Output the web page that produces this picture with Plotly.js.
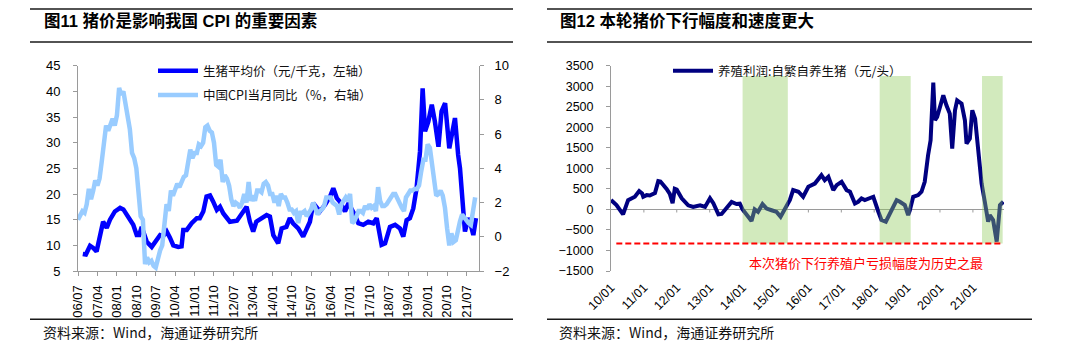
<!DOCTYPE html>
<html>
<head>
<meta charset="utf-8">
<script src="https://cdn.plot.ly/plotly-3.0.1.min.js"></script>
<style>html,body{margin:0;padding:0;background:#fff;}#chart{width:1080px;height:346px;}</style>
</head>
<body>
<div id="chart"></div>
<script>
// ---------------- DATA ----------------
// Left panel: pig price (元/千克, left axis)
const porkDates = ['2006-09-07','2006-10-20','2006-12-18','2007-02-01','2007-03-20','2007-05-07','2007-06-20','2007-08-10','2007-09-25','2007-12-03',
 '2008-02-15','2008-04-01','2008-06-10','2008-08-18','2008-10-06','2008-11-10','2008-12-15','2009-02-25','2009-05-06','2009-07-15',
 '2009-09-01','2009-10-15','2009-12-03','2010-01-18','2010-03-06','2010-05-15','2010-07-01','2010-07-25','2010-09-12','2010-11-20',
 '2011-02-01','2011-03-15','2011-05-03','2011-06-18','2011-08-06','2011-09-20','2011-11-10','2011-12-25','2012-02-10','2012-05-12',
 '2012-08-20','2012-11-18','2013-01-03','2013-02-18','2013-04-06','2013-05-20','2013-08-28','2013-10-12','2013-11-28','2014-01-15',
 '2014-03-25','2014-05-12','2014-07-18','2014-09-05','2014-10-20','2015-01-01','2015-03-12','2015-05-01','2015-06-15','2015-08-01',
 '2015-09-18','2015-11-03','2016-01-15','2016-03-25','2016-05-10','2016-06-28','2016-08-12','2016-10-22','2016-12-10','2017-01-25',
 '2017-03-10','2017-04-28','2017-07-06','2017-09-15','2017-11-25','2018-01-12','2018-03-22','2018-05-10','2018-07-18','2018-09-28',
 '2018-12-06','2019-01-22','2019-03-10','2019-04-25','2019-06-12','2019-07-28','2019-08-22','2019-09-15','2019-10-22','2019-11-25',
 '2020-01-10','2020-02-28','2020-04-12','2020-06-01','2020-07-15','2020-09-03','2020-11-01','2020-12-01','2021-01-20','2021-03-06',
 '2021-04-01','2021-05-15','2021-06-10','2021-07-28','2021-08-25','2021-10-06','2021-11-12'];
const porkPrice = [8.3,8.2,9.9,9.5,8.8,12.0,14.6,13.4,15.0,16.6,
 17.3,17.0,15.6,14.0,12.0,12.0,13.6,10.7,9.7,11.0,
 12.0,11.8,12.7,11.5,10.0,9.7,9.8,13.0,13.0,14.3,
 15.3,15.3,16.6,19.5,19.7,18.5,16.9,17.5,16.2,14.6,
 14.8,16.6,17.5,14.6,12.7,14.6,15.6,15.9,15.6,12.0,
 10.4,13.3,13.6,15.3,14.3,13.3,11.7,13.0,14.6,18.2,
 17.5,16.6,17.9,19.5,21.1,19.2,18.5,16.6,18.2,17.2,
 15.9,14.3,14.0,14.6,14.3,15.3,10.1,10.4,13.6,14.0,
 13.3,11.7,14.9,15.3,17.2,21.1,26.3,28.3,40.6,32.2,
 34.1,37.4,34.1,29.2,36.1,37.7,28.9,30.9,34.8,27.6,
 25.0,17.2,12.7,15.3,14.3,12.0,15.3];

// Left panel: China CPI YoY (%, right axis), monthly from 2006-07
const cpiStart = '2006-07';
const cpiYoY = [1.0,1.3,1.5,1.4,1.9,2.8,
 2.2,2.7,3.3,3.0,3.4,4.4,5.6,6.5,6.2,6.5,6.9,6.5,
 7.1,8.7,8.3,8.5,7.7,7.1,6.3,4.9,4.6,4.0,2.4,1.2,
 1.0,-1.6,-1.2,-1.5,-1.4,-1.7,-1.8,-1.2,-0.8,-0.5,0.6,1.9,
 1.5,2.7,2.4,2.8,3.1,2.9,3.3,3.5,3.6,4.4,5.1,4.6,
 4.9,4.9,5.4,5.3,5.5,6.4,6.5,6.2,6.1,5.5,4.2,4.1,
 4.5,3.2,3.6,3.4,3.0,2.2,1.8,2.0,1.9,1.7,2.0,2.5,
 2.0,3.2,2.1,2.4,2.1,2.7,2.7,2.6,3.1,3.2,3.0,2.5,
 2.5,2.0,2.4,1.8,2.5,2.3,2.3,2.0,1.6,1.6,1.4,1.5,
 0.8,1.4,1.4,1.5,1.2,1.4,1.6,2.0,1.6,1.3,1.5,1.6,
 1.8,2.3,2.3,2.3,2.0,1.9,1.8,1.3,1.9,2.1,2.3,2.1,
 2.5,0.8,0.9,1.2,1.5,1.5,1.4,1.8,1.6,1.9,1.7,1.8,
 1.5,2.9,2.1,1.8,1.8,1.9,2.1,2.3,2.5,2.5,2.2,1.9,
 1.7,1.5,2.3,2.5,2.7,2.7,2.8,2.8,3.0,3.8,4.5,4.5,
 5.4,5.2,4.3,3.3,2.4,2.5,2.7,2.4,1.7,0.5,-0.5,0.2,
 -0.3,-0.2,0.4,0.9,1.3,1.1,1.0,0.8,0.7,1.5,2.3];

const leftTickLabels = ['06/07','07/04','08/01','08/10','09/07','10/04','11/01','11/10','12/07','13/04','14/01',
 '14/10','15/07','16/04','17/01','17/10','18/07','19/04','20/01','20/10','21/07'];

// Right panel: hog farming profit, self-bred (元/头)
const profitDates = ['2010-01-01','2010-03-03','2010-05-15','2010-07-10','2010-09-23','2010-11-10','2010-12-12','2010-12-25','2011-02-01','2011-03-07',
 '2011-05-04','2011-06-10','2011-07-04','2011-08-10','2011-09-10','2011-10-16','2011-11-16','2011-12-10','2012-01-01','2012-02-25',
 '2012-05-07','2012-07-01','2012-09-16','2012-11-10','2013-01-04','2013-02-10','2013-04-07','2013-05-13','2013-06-19','2013-07-25',
 '2013-09-01','2013-10-25','2013-12-01','2014-01-01','2014-02-15','2014-04-10','2014-05-15','2014-06-21','2014-08-10','2014-09-25',
 '2014-11-19','2015-01-13','2015-02-27','2015-04-16','2015-06-10','2015-07-16','2015-09-13','2015-11-04','2016-01-01','2016-03-13',
 '2016-04-19','2016-05-25','2016-07-01','2016-08-10','2016-10-04','2016-11-10','2017-01-04','2017-03-01','2017-04-07','2017-06-01',
 '2017-07-07','2017-08-13','2017-09-19','2017-11-16','2017-12-22','2018-02-16','2018-03-22','2018-05-10','2018-06-04','2018-07-10',
 '2018-09-07','2018-10-13','2018-12-07','2019-01-13','2019-02-01','2019-03-10','2019-05-04','2019-06-10','2019-07-16','2019-08-22',
 '2019-09-19','2019-10-19','2019-11-07','2019-12-01','2020-01-01','2020-02-07','2020-03-13','2020-04-19','2020-05-16','2020-06-16',
 '2020-07-10','2020-08-28','2020-10-04','2020-10-22','2020-11-28','2020-12-25','2021-01-25','2021-03-01','2021-04-07','2021-05-13',
 '2021-06-19','2021-07-07','2021-08-13','2021-09-22','2021-10-28','2021-12-04'];
const profitValues = [227,105,-121,227,308,446,390,308,348,340,
 400,689,680,600,500,380,150,500,480,270,
 100,60,100,60,270,150,-120,-110,0,80,
 180,130,140,0,-120,-280,0,-60,130,20,
 -20,-60,-180,30,230,470,430,308,551,630,
 753,834,713,794,470,591,672,470,430,146,
 186,267,227,267,308,-57,-259,-300,-178,-57,
 227,186,105,-138,-16,308,348,430,672,1320,
 1685,3086,2171,2252,2495,2778,2535,2333,1482,2414,
 2656,2576,2171,1604,1725,2414,2211,1401,632,186,
 -300,-138,-259,-786,105,186];

const rightTickLabels = ['10/01','11/01','12/01','13/01','14/01','15/01','16/01','17/01','18/01','19/01','20/01','21/01'];

// Price-decline periods (shaded) and record-loss level
const bandStarts = ['2014-01-01','2018-03-03','2021-04-12'];
const bandEnds   = ['2015-05-18','2019-02-10','2021-11-27'];
const recordLoss = -830;

// ---------------- HELPERS ----------------
const W = 1080, H = 346;
const fx = p => p / W;
const fy = p => 1 - p / H;
const labelToDate = l => '20' + l.slice(0,2) + '-' + l.slice(3,5) + '-01';
const cpiDates = cpiYoY.map((_, i) => {
  const y0 = parseInt(cpiStart.slice(0,4)), m0 = parseInt(cpiStart.slice(5,7)) - 1;
  const t = m0 + i; const y = y0 + Math.floor(t/12); const m = (t % 12) + 1;
  return y + '-' + String(m).padStart(2,'0') + '-01';
});

const latin = 'Liberation Sans, Arial, sans-serif';
const cjk = 'Noto Sans CJK SC, sans-serif';
const axisGray = '#9a9a9a';

const traces = [
  { x: porkDates, y: porkPrice, type: 'scatter', mode: 'lines', name: '生猪平均价（元/千克，左轴）',
    line: { color: '#0000FF', width: 4.5 }, xaxis: 'x', yaxis: 'y', legend: 'legend', legendgroup: 'a' },
  { x: cpiDates, y: cpiYoY, type: 'scatter', mode: 'lines', name: '中国CPI当月同比（%，右轴）',
    line: { color: '#99CCFF', width: 4.5 }, xaxis: 'x', yaxis: 'y2', legend: 'legend', legendgroup: 'b' },
  { x: profitDates, y: profitValues, type: 'scatter', mode: 'lines', name: '养殖利润:自繁自养生猪（元/头）',
    line: { color: '#000080', width: 4 }, xaxis: 'x3', yaxis: 'y3', legend: 'legend2' }
];

const yDom = [fy(271), fy(65.7)];
const tickFontL = { family: latin, size: 13, color: '#000' };
const tickFontR = { family: latin, size: 12.5, color: '#000' };

const shapes = [];
// header / footer rules
[[30,513],[547,1032]].forEach(([a,b]) => {
  [9,42,319.3].forEach(yy => shapes.push({ type:'line', xref:'paper', yref:'paper', x0:fx(a), x1:fx(b), y0:fy(yy), y1:fy(yy), line:{color:'#1a1a1a', width:1.6} }));
});
// shaded bands
bandStarts.forEach((s, i) => shapes.push({ type:'rect', xref:'x3', yref:'y3', x0:s, x1:bandEnds[i], y0:recordLoss, y1:3250,
  fillcolor:'rgb(142,203,91)', opacity:0.4, line:{width:0}, layer:'above' }));
// ticks on the zero line
rightTickLabels.slice(1).forEach(l => shapes.push({ type:'line', xref:'x3', yref:'y3', x0:labelToDate(l), x1:labelToDate(l), y0:0, y1:-75,
  line:{color:axisGray, width:1}, layer:'below' }));
// record-loss dashed line
shapes.push({ type:'line', xref:'x3', yref:'y3', x0:'2010-03-01', x1:'2021-11-20', y0:recordLoss, y1:recordLoss,
  line:{color:'#FF0000', width:2, dash:'6px,3px'} });

const annotations = [
  { text:'图11 猪价是影响我国 CPI 的重要因素', xref:'paper', yref:'paper', x:fx(42), y:fy(20.5), xanchor:'left', yanchor:'middle', showarrow:false,
    font:{ family: latin.replace(', sans-serif','') + ', ' + cjk, size:16.5, color:'#000', weight:'bold' } },
  { text:'图12 本轮猪价下行幅度和速度更大', xref:'paper', yref:'paper', x:fx(558), y:fy(20.5), xanchor:'left', yanchor:'middle', showarrow:false,
    font:{ family: latin.replace(', sans-serif','') + ', ' + cjk, size:16.5, color:'#000', weight:'bold' } },
  { text:'资料来源：Wind，海通证券研究所', xref:'paper', yref:'paper', x:fx(41), y:fy(331.5), xanchor:'left', yanchor:'middle', showarrow:false,
    font:{ family: cjk, size:14, color:'#111' } },
  { text:'资料来源：Wind，海通证券研究所', xref:'paper', yref:'paper', x:fx(557), y:fy(331.5), xanchor:'left', yanchor:'middle', showarrow:false,
    font:{ family: cjk, size:14, color:'#111' } },
  { text:'本次猪价下行养殖户亏损幅度为历史之最', xref:'paper', yref:'paper', x:fx(866), y:fy(262), xanchor:'center', yanchor:'middle', showarrow:false,
    font:{ family: cjk, size:13, color:'#FF0000' } }
];

const layout = {
  width: W, height: H,
  margin: { l:0, r:0, t:0, b:0 },
  paper_bgcolor: '#fff', plot_bgcolor: 'rgba(0,0,0,0)',
  xaxis: { domain:[fx(78), fx(479)], anchor:'y', type:'date', range:['2006-07-01','2021-12-25'],
    tickmode:'array', tickvals: leftTickLabels.map(labelToDate), ticktext: leftTickLabels, tickangle:-90,
    ticks:'outside', ticklen:4, tickcolor:axisGray, showline:true, linecolor:axisGray, linewidth:1,
    showgrid:false, zeroline:false, tickfont: tickFontL, ticklabelstandoff:4 },
  yaxis: { domain:yDom, anchor:'x', range:[5,45], tick0:5, dtick:5, ticks:'outside', ticklen:4, tickcolor:axisGray,
    showline:true, linecolor:axisGray, linewidth:1, showgrid:false, zeroline:false, tickfont: tickFontL, ticklabelstandoff:10 },
  yaxis2: { overlaying:'y', side:'right', anchor:'x', range:[-2,10], tick0:-2, dtick:2, ticks:'outside', ticklen:4, tickcolor:axisGray,
    showline:true, linecolor:axisGray, linewidth:1, showgrid:false, zeroline:false, tickfont: tickFontL, ticklabelstandoff:8 },
  xaxis3: { domain:[fx(611), fx(1004)], anchor:'y3', type:'date', range:['2010-01-01','2021-12-12'],
    tickmode:'array', tickvals: rightTickLabels.map(labelToDate), ticktext: rightTickLabels, tickangle:-45,
    ticks:'', showline:false, showgrid:false, zeroline:false, tickfont: tickFontR, ticklabelstandoff:6 },
  yaxis3: { domain:yDom, anchor:'x3', range:[-1500,3500], tick0:-1500, dtick:500, ticks:'outside', ticklen:4, tickcolor:axisGray,
    showline:true, linecolor:axisGray, linewidth:1, showgrid:false, zeroline:true, zerolinecolor:axisGray, zerolinewidth:1,
    tickfont: tickFontR, ticklabelstandoff:10 },
  legend: { x:fx(153), y:fy(56), xanchor:'left', yanchor:'top', bgcolor:'rgba(0,0,0,0)', borderwidth:0,
    font:{ family: cjk, size:12.5, color:'#111' }, tracegroupgap:5, itemwidth:40 },
  legend2: { x:fx(668), y:fy(56), xanchor:'left', yanchor:'top', bgcolor:'rgba(0,0,0,0)', borderwidth:0,
    font:{ family: cjk, size:12.5, color:'#111' }, itemwidth:40 },
  shapes: shapes,
  annotations: annotations,
  showlegend: true
};

Plotly.newPlot('chart', traces, layout, { staticPlot:true, displayModeBar:false });
</script>
</body>
</html>
